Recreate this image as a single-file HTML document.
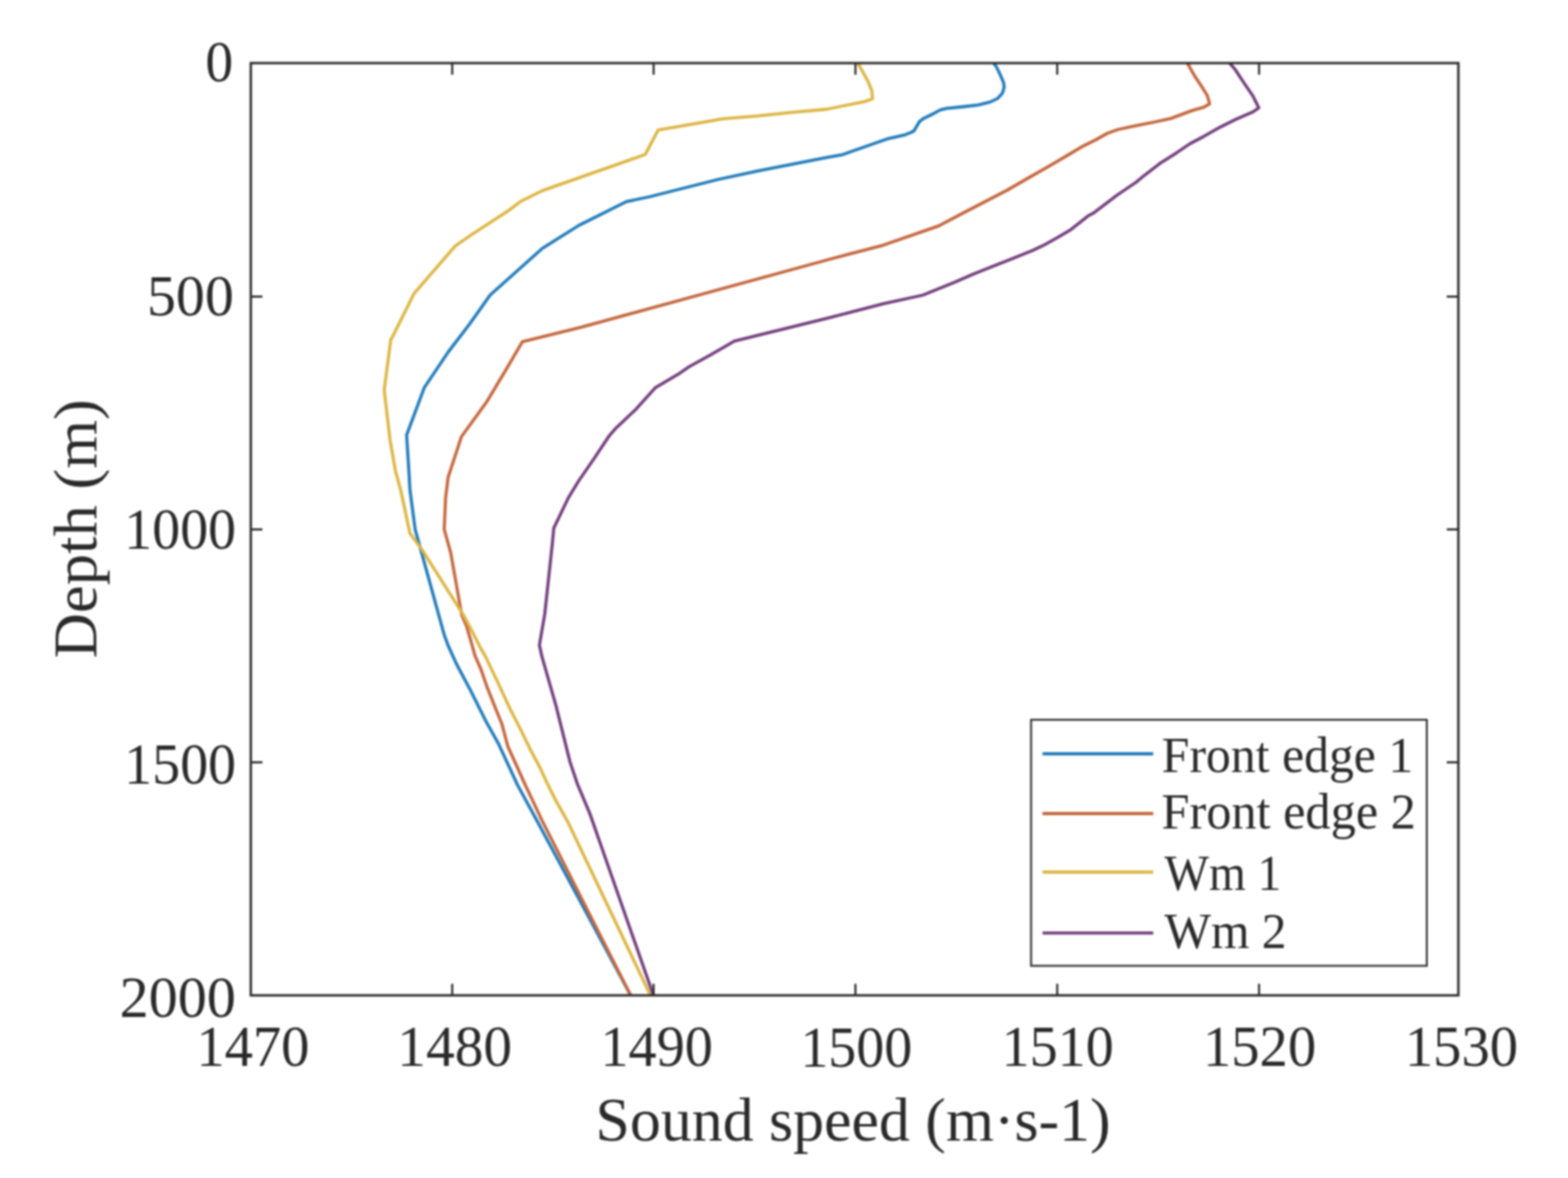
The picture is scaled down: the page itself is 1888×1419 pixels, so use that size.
<!DOCTYPE html>
<html><head><meta charset="utf-8"><title>Sound speed profiles</title><style>
html,body{margin:0;padding:0;background:#fff;overflow:hidden;}
svg{display:block;filter:blur(1px);}
text{font-family:"Liberation Serif","Times New Roman",serif;fill:#2a2a2a;}
</style></head><body>
<svg width="1888" height="1419" viewBox="0 0 1888 1419">
<defs>
<clipPath id="c"><rect x="302.0" y="76.0" width="1454.0" height="1123.0"/></clipPath>
</defs>
<g clip-path="url(#c)"><g fill="none" stroke-width="3.8" stroke-linejoin="round" stroke-linecap="butt">
<polyline stroke="#247dbb" points="1196.5,76.0 1200.0,81.0 1204.2,89.7 1208.4,99.6 1209.1,105.2 1207.0,112.3 1201.3,118.6 1192.2,122.9 1178.1,126.4 1160.5,128.5 1139.3,130.6 1132.3,132.3 1125.2,136.2 1111.1,143.3 1106.9,146.8 1100.6,157.5 1097.0,159.5 1090.0,162.3 1070.0,166.8 1014.4,186.3 995.8,189.7 912.7,205.8 865.3,216.0 782.2,237.0 754.2,242.9 697.0,271.5 653.1,299.2 590.2,355.4 565.2,390.7 539.7,424.0 511.0,466.7 489.6,524.0 492.8,574.8 493.6,590.0 499.9,637.7 534.9,764.8 539.7,777.9 549.7,800.0 566.3,831.2 585.4,869.3 600.0,895.5 623.3,945.9 646.5,988.5 759.4,1199.0"/>
<polyline stroke="#c4683f" points="1429.7,76.0 1438.2,91.1 1446.6,103.8 1453.7,115.1 1456.5,125.0 1449.5,129.2 1434.7,133.4 1410.0,142.6 1390.0,147.0 1364.2,152.2 1346.2,156.0 1333.5,160.5 1319.2,168.5 1301.7,177.3 1284.7,187.5 1258.8,202.7 1239.7,213.5 1212.9,229.0 1158.9,257.0 1130.3,272.1 1063.6,295.3 1000.0,312.0 700.0,394.1 629.0,411.6 609.6,444.7 585.8,484.4 555.6,526.0 539.6,574.8 536.5,600.0 534.9,637.7 542.8,666.3 556.0,741.0 561.6,753.8 566.6,770.7 572.0,790.0 579.0,805.9 586.6,828.0 591.7,840.7 598.0,856.6 604.4,872.4 611.6,899.4 622.5,923.4 632.6,945.9 641.1,963.7 652.7,988.5 759.4,1199.0"/>
<polyline stroke="#dcb645" points="1033.0,76.0 1045.2,98.2 1049.8,109.5 1050.6,119.0 1041.0,122.4 1018.0,127.0 995.8,131.5 953.4,135.4 912.7,139.7 870.2,143.2 851.7,146.4 792.4,156.6 777.0,186.0 750.0,195.6 653.1,229.6 626.4,242.9 611.2,254.4 567.3,283.0 548.2,296.3 498.6,353.5 473.9,403.1 470.5,409.5 462.6,469.9 469.7,530.3 476.1,566.9 482.4,590.0 493.6,642.4 508.0,662.0 557.5,740.0 565.0,753.8 577.9,779.2 584.1,790.0 599.3,821.7 613.9,853.4 627.5,880.0 638.8,903.3 650.4,925.0 658.1,942.0 669.8,965.3 683.7,990.0 783.2,1199.0"/>
<polyline stroke="#74407e" points="1480.5,76.0 1487.5,84.1 1498.1,100.3 1508.7,115.8 1515.7,129.9 1508.7,134.8 1487.5,144.0 1470.0,152.7 1448.8,164.7 1433.0,173.0 1417.1,183.8 1398.1,195.8 1379.0,210.4 1367.6,219.8 1345.1,235.0 1316.9,256.5 1310.0,260.2 1289.8,276.3 1272.9,286.4 1255.9,295.8 1243.2,301.7 1217.8,311.9 1192.4,322.0 1171.2,330.5 1150.0,339.8 1111.2,355.5 1063.6,365.9 1000.0,382.3 884.3,410.8 854.9,427.9 829.5,441.9 816.8,450.7 788.9,467.2 766.1,492.6 740.7,516.7 733.1,525.6 715.4,552.2 696.3,580.0 684.2,600.0 666.8,636.1 665.2,653.6 655.9,740.0 649.5,777.0 652.5,790.8 669.5,850.2 686.4,918.0 694.9,943.4 710.2,980.0 786.8,1199.0"/>
</g></g>
<path d="M544.5,1199.0V1185.0M544.5,76.0V90.0M787.0,1199.0V1185.0M787.0,76.0V90.0M1030.0,1199.0V1185.0M1030.0,76.0V90.0M1273.0,1199.0V1185.0M1273.0,76.0V90.0M1516.0,1199.0V1185.0M1516.0,76.0V90.0M302.0,357.2H316.0M1756.0,357.2H1742.0M302.0,637.8H316.0M1756.0,637.8H1742.0M302.0,918.3H316.0M1756.0,918.3H1742.0" stroke="#262626" stroke-width="2.4" fill="none"/>
<rect x="302.0" y="76.0" width="1454.0" height="1123.0" stroke="#262626" stroke-width="2.8" fill="none"/>
<rect x="1241.5" y="867" width="476.5" height="296.4000000000001" fill="#fff" stroke="#262626" stroke-width="2.2"/>
<g stroke-width="3.8">
<line x1="1255.3" x2="1388.6" y1="908.0" y2="908.0" stroke="#247dbb"/>
<line x1="1255.3" x2="1388.6" y1="980.0" y2="980.0" stroke="#c4683f"/>
<line x1="1255.3" x2="1388.6" y1="1050.5" y2="1050.5" stroke="#dcb645"/>
<line x1="1255.3" x2="1388.6" y1="1123.8" y2="1123.8" stroke="#74407e"/>
</g>
<text x="247.35" y="98.45" font-size="70.60" textLength="33.5" lengthAdjust="spacingAndGlyphs">0</text>
<text x="177.00" y="380.05" font-size="70.60" textLength="104.5" lengthAdjust="spacingAndGlyphs">500</text>
<text x="149.55" y="661.20" font-size="70.60" textLength="134.7" lengthAdjust="spacingAndGlyphs">1000</text>
<text x="149.55" y="943.95" font-size="70.60" textLength="134.7" lengthAdjust="spacingAndGlyphs">1500</text>
<text x="143.90" y="1224.85" font-size="70.60" textLength="140.1" lengthAdjust="spacingAndGlyphs">2000</text>
<text x="236.40" y="1284.20" font-size="70.60" textLength="136.3" lengthAdjust="spacingAndGlyphs">1470</text>
<text x="478.35" y="1284.20" font-size="70.60" textLength="138.3" lengthAdjust="spacingAndGlyphs">1480</text>
<text x="722.95" y="1284.20" font-size="70.60" textLength="135.4" lengthAdjust="spacingAndGlyphs">1490</text>
<text x="963.65" y="1284.75" font-size="70.60" textLength="134.8" lengthAdjust="spacingAndGlyphs">1500</text>
<text x="1205.90" y="1284.20" font-size="70.60" textLength="135.3" lengthAdjust="spacingAndGlyphs">1510</text>
<text x="1448.40" y="1284.20" font-size="70.60" textLength="136.4" lengthAdjust="spacingAndGlyphs">1520</text>
<text x="1691.45" y="1284.20" font-size="70.60" textLength="136.5" lengthAdjust="spacingAndGlyphs">1530</text>
<text x="1398.85" y="929.95" font-size="60.60" textLength="302.8" lengthAdjust="spacingAndGlyphs">Front edge 1</text>
<text x="1398.55" y="998.45" font-size="60.60" textLength="306.2" lengthAdjust="spacingAndGlyphs">Front edge 2</text>
<text x="1401.90" y="1072.15" font-size="60.60" textLength="140.9" lengthAdjust="spacingAndGlyphs">Wm 1</text>
<text x="1402.00" y="1142.15" font-size="60.60" textLength="147.1" lengthAdjust="spacingAndGlyphs">Wm 2</text>
<text x="717.10" y="1374.05" font-size="75.00" textLength="620.3" lengthAdjust="spacingAndGlyphs">Sound speed (m·s-1)</text>
<text transform="translate(116.30,792.95) rotate(-90)" font-size="75.00" textLength="312.2" lengthAdjust="spacingAndGlyphs">Depth (m)</text>
</svg>
</body></html>
